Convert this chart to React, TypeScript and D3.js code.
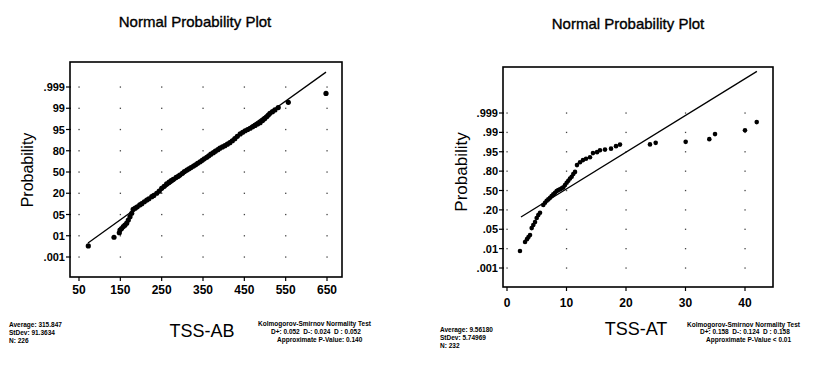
import React, { useEffect, useRef } from "react";
import * as d3 from "d3";

// probability labels, bottom (.001) to top (.999), equally spaced on the chart
const abProbLabels = [".001", "01", "05", "20", "50", "80", "95", "99", ".999"];
const atProbLabels = [".001", ".01", ".05", ".20", ".50", ".80", ".95", ".99", ".999"];

const abXTicks = [50, 150, 250, 350, 450, 550, 650];
const atXTicks = [0, 10, 20, 30, 40];

// [TSS value, probability-label position]
const abPoints: [number, number][] = [
  [72.5, 0.52], [134.7, 0.93], [147.5, 1.14], [149.2, 1.27], [153, 1.34], [157.2, 1.43],
  [161, 1.5], [165.4, 1.59], [169.3, 1.74], [173.4, 1.9], [177.5, 2.06],
  [181, 2.24], [186, 2.3], [191, 2.36], [197, 2.45], [202, 2.51], [208, 2.6], [214, 2.68],
  [219, 2.74], [226, 2.84], [231, 2.9], [238, 3.0], [244, 3.1], [250, 3.23], [256, 3.33],
  [262, 3.44], [268, 3.52], [273, 3.59], [278, 3.66], [285, 3.75], [290, 3.8], [294, 3.86],
  [300, 3.94], [305, 4.02], [311, 4.09], [316, 4.15], [321, 4.21], [327, 4.28], [332, 4.34],
  [337, 4.41], [343, 4.48], [348, 4.55], [353, 4.62], [359, 4.69], [364, 4.76], [369, 4.84],
  [375, 4.91], [380, 4.98], [386, 5.05], [391, 5.12], [397, 5.18], [403, 5.24], [409, 5.31],
  [415, 5.38], [421, 5.47], [427, 5.57], [433, 5.68], [440, 5.79], [446, 5.87], [452, 5.94],
  [458, 6.0], [464, 6.06], [470, 6.13], [476, 6.19], [482, 6.26], [488, 6.32], [494, 6.42],
  [499, 6.51], [504, 6.6], [508, 6.68], [512, 6.76], [518, 6.84], [524, 6.92], [532, 7.03],
  [556.4, 7.28], [647.6, 7.7],
];
const abFit: [number, number][] = [[71.8, 0.66], [647.6, 8.7]];

const atPoints: [number, number][] = [
  [2.18, 0.88], [3.03, 1.34], [3.36, 1.49], [3.61, 1.6], [3.87, 1.7], [4.15, 2.06],
  [4.42, 2.22], [4.71, 2.37], [4.99, 2.58], [5.26, 2.73], [5.55, 2.85], [6.1, 3.25],
  [6.39, 3.37], [6.67, 3.47], [6.94, 3.54], [7.23, 3.62], [7.51, 3.71], [7.78, 3.81],
  [8.07, 3.88], [8.35, 3.97], [8.62, 4.02], [8.91, 4.06], [9.19, 4.11], [9.46, 4.16],
  [9.75, 4.28], [10.03, 4.4], [10.3, 4.5], [10.59, 4.62], [10.87, 4.71], [11.14, 4.85],
  [11.43, 4.96], [11.76, 5.31], [12.27, 5.46], [12.77, 5.57], [13.28, 5.64], [13.95, 5.72],
  [14.45, 5.93], [15.13, 5.98], [15.63, 6.08], [16.47, 6.11], [17.48, 6.16], [18.32, 6.29],
  [18.99, 6.37], [24.03, 6.38], [24.99, 6.46], [30.03, 6.51], [34.0, 6.65], [34.96, 6.91],
  [40.0, 7.11], [41.97, 7.53],
];
const atFit: [number, number][] = [[2.35, 2.63], [42.0, 10.15]];

const abStats = ["Average: 315.847", "StDev: 91.3634", "N: 226"];
const atStats = ["Average: 9.56180", "StDev: 5.74969", "N: 232"];
const abTest = ["Kolmogorov-Smirnov Normality Test", "D+: 0.052  D-: 0.024  D : 0.052", "Approximate P-Value: 0.140"];
const atTest = ["Kolmogorov-Smirnov Normality Test", "D+: 0.158  D-: 0.124  D : 0.158", "Approximate P-Value < 0.01"];

const FONT = "'Liberation Sans', Arial, sans-serif";
const NARROW = "'Liberation Sans Narrow', 'Liberation Sans', Arial, sans-serif";

interface Panel {
  frame: { x0: number; x1: number; y0: number; y1: number };
  xDomain: [number, number];
  xRange: [number, number];
  yRange: [number, number];
  xTicks: number[];
  yLabels: string[];
  points: [number, number][];
  r: number;
  fit: [number, number][];
  title: string;
  titleX: number;
  titleY: number;
  ylabX: number;
  ylabY: number;
  ylabSize: number;
  xLabY: number;
  name: string;
  nameX: number;
  nameY: number;
  stats: string[];
  statsX: number;
  statsY: number;
  test: string[];
  testX: number;
  testY: number;
}

const panels: Panel[] = [
  {
    frame: { x0: 70, x1: 342, y0: 62, y1: 277 },
    xDomain: [50, 650], xRange: [79, 327], yRange: [257, 87],
    xTicks: abXTicks, yLabels: abProbLabels, points: abPoints, r: 2.6, fit: abFit,
    title: "Normal Probability Plot", titleX: 195, titleY: 27,
    ylabX: 33, ylabY: 170, ylabSize: 16, xLabY: 294,
    name: "TSS-AB", nameX: 202, nameY: 337,
    stats: abStats, statsX: 9, statsY: 327,
    test: abTest, testX: 258, testY: 326,
  },
  {
    frame: { x0: 503, x1: 773, y0: 67, y1: 287 },
    xDomain: [0, 40], xRange: [507, 745], yRange: [268, 113],
    xTicks: atXTicks, yLabels: atProbLabels, points: atPoints, r: 2.3, fit: atFit,
    title: "Normal Probability Plot", titleX: 628, titleY: 29,
    ylabX: 467, ylabY: 172, ylabSize: 17, xLabY: 307,
    name: "TSS-AT", nameX: 636, nameY: 335,
    stats: atStats, statsX: 440, statsY: 331.5,
    test: atTest, testX: 687, testY: 326.5,
  },
];

export default function App() {
  const ref = useRef<SVGSVGElement>(null);

  useEffect(() => {
    const svg = d3.select(ref.current);
    svg.selectAll("*").remove();

    panels.forEach((p) => {
      const g = svg.append("g");
      const x = d3.scaleLinear().domain(p.xDomain).range(p.xRange);
      const y = d3.scaleLinear().domain([0, p.yLabels.length - 1]).range(p.yRange);
      const f = p.frame;

      // title
      g.append("text")
        .attr("x", p.titleX).attr("y", p.titleY)
        .attr("text-anchor", "middle")
        .attr("stroke", "#000").attr("stroke-width", 0.35)
        .style("font-family", FONT).style("font-size", "15px")
        .text(p.title);

      // sparse dotted grid (dots at tick crossings)
      p.xTicks.forEach((tx) => {
        p.yLabels.forEach((_, i) => {
          g.append("rect")
            .attr("x", x(tx) - 0.6).attr("y", y(i) - 0.6)
            .attr("width", 1.3).attr("height", 1.3)
            .attr("fill", "#444");
        });
      });

      // frame
      g.append("rect")
        .attr("x", f.x0).attr("y", f.y0)
        .attr("width", f.x1 - f.x0).attr("height", f.y1 - f.y0)
        .attr("fill", "none").attr("stroke", "#000").attr("stroke-width", 1.6);

      // y ticks + labels
      p.yLabels.forEach((lab, i) => {
        g.append("line")
          .attr("x1", f.x0 - 4).attr("x2", f.x0 + 1)
          .attr("y1", y(i)).attr("y2", y(i))
          .attr("stroke", "#000").attr("stroke-width", 1.2);
        g.append("text")
          .attr("x", f.x0 - 5).attr("y", y(i) + 4)
          .attr("text-anchor", "end")
          .style("font-family", NARROW).style("font-size", "11px").style("font-weight", "bold")
          .text(lab);
      });

      // x ticks + labels
      p.xTicks.forEach((tx) => {
        g.append("line")
          .attr("x1", x(tx)).attr("x2", x(tx))
          .attr("y1", f.y1).attr("y2", f.y1 + 4)
          .attr("stroke", "#000").attr("stroke-width", 1.2);
        g.append("text")
          .attr("x", x(tx)).attr("y", p.xLabY)
          .attr("text-anchor", "middle")
          .style("font-family", NARROW).style("font-size", "12px").style("font-weight", "bold")
          .text(tx);
      });

      // y axis label
      g.append("text")
        .attr("transform", `translate(${p.ylabX},${p.ylabY}) rotate(-90)`)
        .attr("text-anchor", "middle")
        .style("font-family", FONT).style("font-size", `${p.ylabSize}px`)
        .text("Probability");

      // fitted line
      const line = d3.line<[number, number]>().x((d) => x(d[0])).y((d) => y(d[1]));
      g.append("path")
        .attr("d", line(p.fit))
        .attr("fill", "none").attr("stroke", "#000").attr("stroke-width", 1.3);

      // points
      g.selectAll("circle.pt")
        .data(p.points)
        .enter()
        .append("circle")
        .attr("class", "pt")
        .attr("cx", (d) => x(d[0]))
        .attr("cy", (d) => y(d[1]))
        .attr("r", p.r)
        .attr("fill", "#000");

      // sample name
      g.append("text")
        .attr("x", p.nameX).attr("y", p.nameY)
        .attr("text-anchor", "middle")
        .style("font-family", FONT).style("font-size", "18px")
        .text(p.name);

      // summary stats
      p.stats.forEach((s, i) => {
        g.append("text")
          .attr("x", p.statsX).attr("y", p.statsY + i * 8)
          .style("font-family", FONT).style("font-size", "6.5px").style("font-weight", "bold")
          .text(s);
      });

      // normality test
      p.test.forEach((s, i) => {
        g.append("text")
          .attr("x", p.testX + (i === 0 ? 0 : i === 1 ? 13 : 19)).attr("y", p.testY + i * 7.8)
          .style("white-space", "pre")
          .style("font-family", FONT).style("font-size", "6.5px").style("font-weight", "bold")
          .text(s);
      });
    });
  }, []);

  return (
    <svg
      ref={ref}
      width={813}
      height={370}
      style={{ position: "absolute", left: 0, top: 0, background: "#fff" }}
    />
  );
}
